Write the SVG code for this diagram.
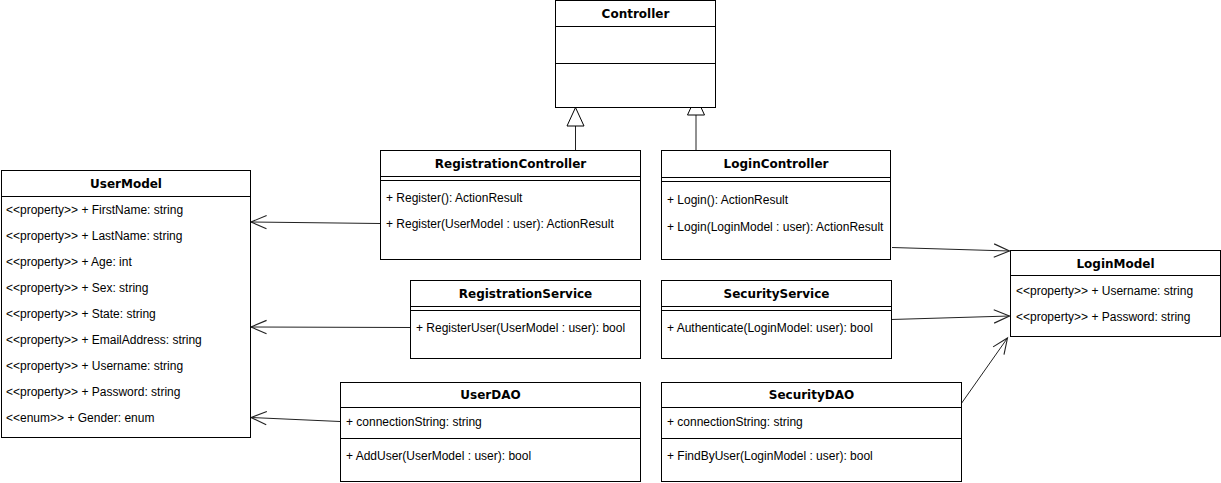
<svg xmlns="http://www.w3.org/2000/svg" width="1221" height="483" viewBox="0 0 1221 483">
<style>
.box{fill:#fff;stroke:#000;stroke-width:1}
.sep{stroke:#000;stroke-width:1;fill:none}
.title{font-family:"DejaVu Sans",Verdana,sans-serif;font-weight:bold;font-size:12px;fill:#000;text-anchor:middle}
.row{font-family:"Liberation Sans",Arial,sans-serif;font-size:12px;fill:#000}
.edge{stroke:#222;stroke-width:1;fill:none}
</style>
<defs>
<marker id="open" markerUnits="userSpaceOnUse" markerWidth="20" markerHeight="20" viewBox="-16 -8 18 16" refX="0" refY="0" orient="auto">
<path d="M-14,-6 L0,0 L-14,6" fill="none" stroke="#222" stroke-width="1"/>
</marker>
</defs>
<g id="connectors">
<line class="edge" x1="575.5" y1="150" x2="575.5" y2="126"/>
<polygon points="575.5,107.5 567,126 584,126" fill="#fff" stroke="#000"/>
<line class="edge" x1="696" y1="153" x2="696" y2="115"/>
<polygon points="696,96.5 687.5,115 704.5,115" fill="#fff" stroke="#000"/>
<line class="edge" x1="380" y1="223.5" x2="251" y2="222" marker-end="url(#open)"/>
<line class="edge" x1="410" y1="327.5" x2="251" y2="327" marker-end="url(#open)"/>
<line class="edge" x1="340" y1="421.5" x2="251" y2="417.5" marker-end="url(#open)"/>
<line class="edge" x1="892" y1="247.5" x2="1009.5" y2="251" marker-end="url(#open)"/>
<line class="edge" x1="891" y1="319.5" x2="1009.5" y2="316" marker-end="url(#open)"/>
<line class="edge" x1="961" y1="404" x2="1007.5" y2="338" marker-end="url(#open)"/>
</g>
<g id="Controller">
<rect class="box" x="555.5" y="0.5" width="160" height="107"/>
<line class="sep" x1="555.5" y1="26.5" x2="715.5" y2="26.5"/>
<line class="sep" x1="555.5" y1="63.5" x2="715.5" y2="63.5"/>
<text class="title" x="635.5" y="18">Controller</text>
</g>
<g id="RegistrationController">
<rect class="box" x="380.5" y="150.5" width="260" height="109"/>
<line class="sep" x1="380.5" y1="176.5" x2="640.5" y2="176.5"/>
<line class="sep" x1="380.5" y1="180.5" x2="640.5" y2="180.5"/>
<text class="title" x="510.5" y="168">RegistrationController</text>
<text class="row" x="386" y="202">+ Register(): ActionResult</text>
<text class="row" x="386" y="228">+ Register(UserModel : user): ActionResult</text>
</g>
<g id="LoginController">
<rect class="box" x="661.5" y="150.5" width="229" height="109"/>
<line class="sep" x1="661.5" y1="177.5" x2="890.5" y2="177.5"/>
<line class="sep" x1="661.5" y1="181.5" x2="890.5" y2="181.5"/>
<text class="title" x="776" y="168">LoginController</text>
<text class="row" x="667" y="204">+ Login(): ActionResult</text>
<text class="row" x="667" y="230.5">+ Login(LoginModel : user): ActionResult</text>
</g>
<g id="UserModel">
<rect class="box" x="1.5" y="170.5" width="249" height="267"/>
<line class="sep" x1="1.5" y1="196.5" x2="250.5" y2="196.5"/>
<text class="title" x="126" y="188">UserModel</text>
<text class="row" x="6" y="214">&lt;&lt;property&gt;&gt; + FirstName: string</text>
<text class="row" x="6" y="240">&lt;&lt;property&gt;&gt; + LastName: string</text>
<text class="row" x="6" y="266">&lt;&lt;property&gt;&gt; + Age: int</text>
<text class="row" x="6" y="292">&lt;&lt;property&gt;&gt; + Sex: string</text>
<text class="row" x="6" y="318">&lt;&lt;property&gt;&gt; + State: string</text>
<text class="row" x="6" y="344">&lt;&lt;property&gt;&gt; + EmailAddress: string</text>
<text class="row" x="6" y="370">&lt;&lt;property&gt;&gt; + Username: string</text>
<text class="row" x="6" y="396">&lt;&lt;property&gt;&gt; + Password: string</text>
<text class="row" x="6" y="422">&lt;&lt;enum&gt;&gt; + Gender: enum</text>
</g>
<g id="RegistrationService">
<rect class="box" x="410.5" y="280.5" width="230" height="78"/>
<line class="sep" x1="410.5" y1="306.5" x2="640.5" y2="306.5"/>
<line class="sep" x1="410.5" y1="310.5" x2="640.5" y2="310.5"/>
<text class="title" x="525.5" y="298">RegistrationService</text>
<text class="row" x="416" y="332">+ RegisterUser(UserModel : user): bool</text>
</g>
<g id="SecurityService">
<rect class="box" x="661.5" y="280.5" width="230" height="78"/>
<line class="sep" x1="661.5" y1="306.5" x2="891.5" y2="306.5"/>
<line class="sep" x1="661.5" y1="310.5" x2="891.5" y2="310.5"/>
<text class="title" x="776.5" y="298">SecurityService</text>
<text class="row" x="667" y="332">+ Authenticate(LoginModel: user): bool</text>
</g>
<g id="UserDAO">
<rect class="box" x="340.5" y="382.5" width="300" height="99"/>
<line class="sep" x1="340.5" y1="407.5" x2="640.5" y2="407.5"/>
<line class="sep" x1="340.5" y1="438.5" x2="640.5" y2="438.5"/>
<text class="title" x="490.5" y="399">UserDAO</text>
<text class="row" x="346" y="426">+ connectionString: string</text>
<text class="row" x="346" y="460">+ AddUser(UserModel : user): bool</text>
</g>
<g id="SecurityDAO">
<rect class="box" x="661.5" y="382.5" width="300" height="99"/>
<line class="sep" x1="661.5" y1="407.5" x2="961.5" y2="407.5"/>
<line class="sep" x1="661.5" y1="438.5" x2="961.5" y2="438.5"/>
<text class="title" x="811.5" y="399">SecurityDAO</text>
<text class="row" x="667" y="426">+ connectionString: string</text>
<text class="row" x="667" y="460">+ FindByUser(LoginModel : user): bool</text>
</g>
<g id="LoginModel">
<rect class="box" x="1010.5" y="250.5" width="210" height="86"/>
<line class="sep" x1="1010.5" y1="275.5" x2="1220.5" y2="275.5"/>
<text class="title" x="1115.5" y="267.5">LoginModel</text>
<text class="row" x="1016" y="295">&lt;&lt;property&gt;&gt; + Username: string</text>
<text class="row" x="1016" y="321">&lt;&lt;property&gt;&gt; + Password: string</text>
</g>
</svg>
